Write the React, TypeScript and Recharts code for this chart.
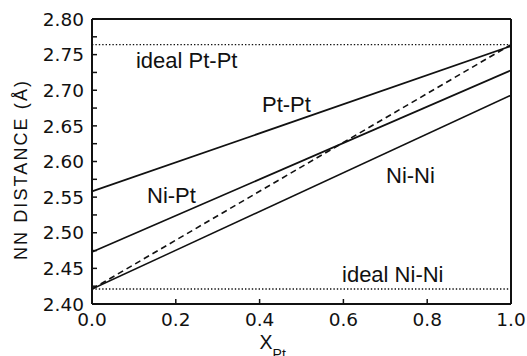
import { LineChart, Line, XAxis, YAxis, ReferenceLine, ReferenceDot } from "recharts";

// composition endpoints (X_Pt) and nearest-neighbour distances (Å)
const xPt = [0, 1];
const ptPt = [2.558, 2.762];
const niPt = [2.473, 2.728];
const niNi = [2.421, 2.693];
const vegard = [2.421, 2.764];
const idealPtPt = 2.764;
const idealNiNi = 2.421;

const xTicks = [0, 0.2, 0.4, 0.6, 0.8, 1.0];
const yTicks = [2.4, 2.425, 2.45, 2.475, 2.5, 2.525, 2.55, 2.575, 2.6, 2.625, 2.65, 2.675, 2.7, 2.725, 2.75, 2.775, 2.8];
const yLabels = ["2.40", "2.45", "2.50", "2.55", "2.60", "2.65", "2.70", "2.75", "2.80"];

const toSeries = (ys: number[]) => xPt.map((x, i) => ({ x, y: ys[i] }));

const INK = "#111";
const TEXT_FONT = "'Liberation Sans', Arial, Helvetica, sans-serif";
const TICK_FONT = "'DejaVu Sans', sans-serif";
const TICK_LEN = 5;
const TICK_W = 1.5;
const GAP = 8;

const fmtY = (v: number) => {
  const s = v.toFixed(2);
  return yLabels.includes(s) && Math.abs(v - Number(s)) < 1e-6 ? s : "";
};

// inward tick marks, drawn by hand since the axis only draws outward ones
const LeftTick = ({ x, y, payload }: any) => (
  <g>
    <line x1={x + GAP} x2={x + GAP + TICK_LEN} y1={y} y2={y} stroke={INK} strokeWidth={TICK_W} />
    <text x={x} y={y} dy="0.36em" textAnchor="end" fill={INK} fontSize={18.5} fontFamily={TICK_FONT}>
      {fmtY(payload.value)}
    </text>
  </g>
);
const RightTick = ({ x, y }: any) => (
  <line x1={x - GAP} x2={x - GAP - TICK_LEN} y1={y} y2={y} stroke={INK} strokeWidth={TICK_W} />
);
const BottomTick = ({ x, y, payload }: any) => (
  <g>
    <line x1={x} x2={x} y1={y - GAP} y2={y - GAP - TICK_LEN} stroke={INK} strokeWidth={TICK_W} />
    <text x={x} y={y + 1} dy="0.72em" textAnchor="middle" fill={INK} fontSize={18.5} fontFamily={TICK_FONT}>
      {payload.value.toFixed(1)}
    </text>
  </g>
);
const TopTick = ({ x, y }: any) => (
  <line x1={x} x2={x} y1={y + GAP} y2={y + GAP + TICK_LEN} stroke={INK} strokeWidth={TICK_W} />
);

const Note = ({ cx, cy, text }: any) => (
  <text x={cx} y={cy} fontFamily={TEXT_FONT} fontSize={22} fill={INK}>
    {text}
  </text>
);

const note = (text: string) => (p: any) => <Note cx={p.cx} cy={p.cy} text={text} />;

const XLabel = (props: any) => {
  const vb = props.viewBox;
  const x = vb.x + vb.width * 0.4;
  const y = vb.y + 45;
  return (
    <text x={x} y={y} fontFamily={TEXT_FONT} fontSize={19.5} fill={INK}>
      X
      <tspan dy={10} fontSize={14}>Pt</tspan>
    </text>
  );
};

const YLabel = (props: any) => {
  const vb = props.viewBox;
  const x = vb.x + 27;
  const y = vb.y + vb.height / 2 + 8;
  return (
    <text
      x={x}
      y={y}
      textAnchor="middle"
      transform={`rotate(-90, ${x}, ${y})`}
      fontFamily={TEXT_FONT}
      fontSize={18}
      letterSpacing={2.1}
      fill={INK}
    >
      NN DISTANCE (Å)
    </text>
  );
};

const axisLine = { stroke: INK, strokeWidth: 2 };

export default function App() {
  return (
    <div style={{ position: "absolute", left: 0, top: 0, background: "#fff" }}>
      <LineChart width={527} height={356} margin={{ top: 0, right: 0, bottom: 0, left: 0 }}>
        <XAxis
          type="number"
          dataKey="x"
          domain={[0, 1]}
          ticks={xTicks}
          height={52}
          tickSize={0}
          tickMargin={GAP}
          axisLine={axisLine}
          tickLine={false}
          tick={<BottomTick />}
          interval={0}
          label={XLabel}
        />
        <XAxis
          xAxisId="top"
          orientation="top"
          type="number"
          dataKey="x"
          domain={[0, 1]}
          ticks={xTicks}
          height={19}
          tickSize={0}
          tickMargin={GAP}
          axisLine={axisLine}
          tickLine={false}
          tick={<TopTick />}
          interval={0}
        />
        <YAxis
          type="number"
          domain={[2.4, 2.8]}
          ticks={yTicks}
          width={92}
          tickSize={0}
          tickMargin={GAP}
          axisLine={axisLine}
          tickLine={false}
          tick={<LeftTick />}
          interval={0}
          label={YLabel}
        />
        <YAxis
          yAxisId="right"
          orientation="right"
          type="number"
          domain={[2.4, 2.8]}
          ticks={yTicks}
          width={16}
          tickSize={0}
          tickMargin={GAP}
          axisLine={axisLine}
          tickLine={false}
          tick={<RightTick />}
          interval={0}
        />
        <ReferenceLine y={idealPtPt} stroke={INK} strokeWidth={1.4} strokeDasharray="1.4 2" />
        <ReferenceLine y={idealNiNi} stroke={INK} strokeWidth={1.4} strokeDasharray="1.4 2" />
        <Line data={toSeries(ptPt)} dataKey="y" stroke={INK} strokeWidth={1.7} dot={false} isAnimationActive={false} />
        <Line data={toSeries(niPt)} dataKey="y" stroke={INK} strokeWidth={1.7} dot={false} isAnimationActive={false} />
        <Line data={toSeries(niNi)} dataKey="y" stroke={INK} strokeWidth={1.5} dot={false} isAnimationActive={false} />
        <Line
          data={toSeries(vegard)}
          dataKey="y"
          stroke={INK}
          strokeWidth={1.6}
          strokeDasharray="6 4"
          dot={false}
          isAnimationActive={false}
        />
        <ReferenceDot x={0.105} y={2.7312} r={0} shape={note("ideal Pt-Pt")} />
        <ReferenceDot x={0.4057} y={2.6695} r={0} shape={note("Pt-Pt")} />
        <ReferenceDot x={0.1313} y={2.5418} r={0} shape={note("Ni-Pt")} />
        <ReferenceDot x={0.7017} y={2.5698} r={0} shape={note("Ni-Ni")} />
        <ReferenceDot x={0.5967} y={2.4309} r={0} shape={note("ideal Ni-Ni")} />
      </LineChart>
    </div>
  );
}
